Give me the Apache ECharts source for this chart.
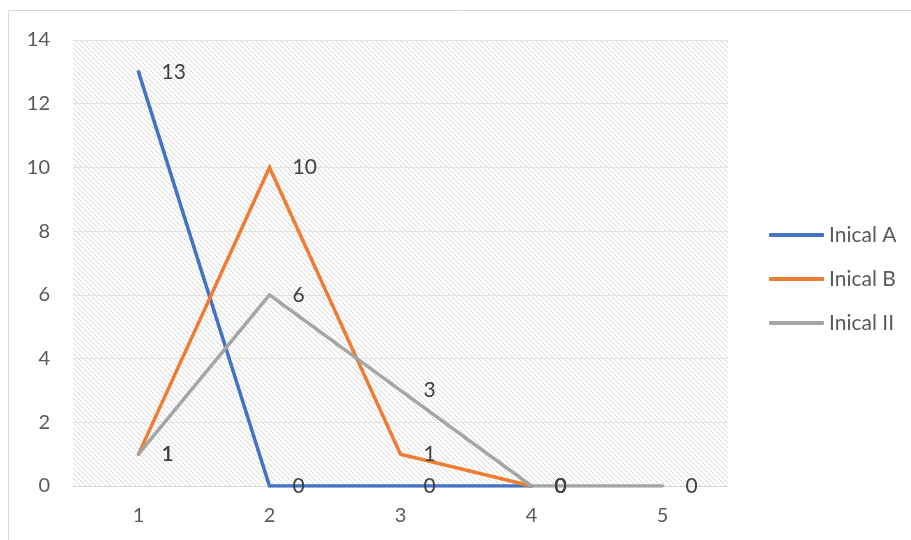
<!DOCTYPE html>
<html>
<head>
<meta charset="utf-8">
<script src="https://cdn.jsdelivr.net/npm/echarts@6/dist/echarts.min.js"></script>
<style>
  html, body { margin: 0; padding: 0; background: #fff; }
  #chart { width: 911px; height: 540px; }
</style>
</head>
<body>
<div id="chart"></div>
<script>
// Categories and series values
const categories = ['1', '2', '3', '4', '5'];
const inicalA = [13, 0, 0, 0];
const inicalB = [1, 10, 1, 0];
const inicalII = [1, 6, 3, 0, 0];
const seriesNames = ['Inical A', 'Inical B', 'Inical II'];
const colors = ['#4472C4', '#ED7D31', '#A5A5A5'];

const FONT = 'Lato, Open Sans, sans-serif';

// Diagonal hatch tile for the plot background
function hatchTile() {
  const size = 5;
  const c = document.createElement('canvas');
  c.width = size; c.height = size;
  const ctx = c.getContext('2d');
  ctx.fillStyle = '#ffffff';
  ctx.fillRect(0, 0, size, size);
  ctx.fillStyle = '#d6d6d6';
  for (let i = 0; i < size; i++) ctx.fillRect(i, i, 1, 1);
  return c;
}

const chart = echarts.init(document.getElementById('chart'), null, { renderer: 'canvas' });

function lineSeries(name, data, color) {
  return {
    name: name,
    type: 'line',
    data: data,
    symbol: 'circle',
    symbolSize: 2,
    showSymbol: true,
    color: color,
    lineStyle: { color: color, width: 3.5, cap: 'round', join: 'miter' },
    itemStyle: { color: color },
    label: {
      show: true,
      position: 'right',
      distance: 22,
      color: '#404040',
      fontFamily: FONT,
      fontSize: 21
    },
    emphasis: { disabled: true },
    animation: false,
    z: 3
  };
}

chart.setOption({
  animation: false,
  backgroundColor: '#ffffff',
  graphic: [{
    type: 'rect',
    shape: { x: 8.5, y: 10.5, width: 920, height: 540 },
    style: { fill: 'none', stroke: '#d9d9d9', lineWidth: 1 },
    silent: true
  }],
  grid: {
    left: 73, right: 183, top: 40, bottom: 54,
    show: true,
    borderWidth: 0,
    backgroundColor: { image: hatchTile(), repeat: 'repeat' }
  },
  legend: {
    orient: 'vertical',
    left: 769,
    top: 223,
    padding: 0,
    itemWidth: 55,
    itemHeight: 4,
    itemGap: 20,
    icon: 'roundRect',
    data: seriesNames.map((n, i) => ({ name: n, itemStyle: { color: colors[i], opacity: 1 } })),
    textStyle: {
      color: '#595959',
      fontFamily: FONT,
      fontSize: 21,
      lineHeight: 24
    }
  },
  xAxis: {
    type: 'category',
    data: categories,
    boundaryGap: true,
    axisLine: { show: true, lineStyle: { color: '#d9d9d9', width: 1 } },
    axisTick: { show: false },
    axisLabel: {
      color: '#595959',
      fontFamily: FONT,
      fontSize: 20,
      margin: 20
    },
    splitLine: { show: false }
  },
  yAxis: {
    type: 'value',
    min: 0,
    max: 14,
    interval: 2,
    axisLine: { show: false },
    axisTick: { show: false },
    axisLabel: {
      color: '#595959',
      fontFamily: FONT,
      fontSize: 20,
      margin: 23
    },
    splitLine: { show: true, lineStyle: { color: '#e3e3e3', width: 1 } }
  },
  series: [
    lineSeries(seriesNames[0], inicalA, colors[0]),
    lineSeries(seriesNames[1], inicalB, colors[1]),
    lineSeries(seriesNames[2], inicalII, colors[2])
  ]
});
</script>
</body>
</html>
